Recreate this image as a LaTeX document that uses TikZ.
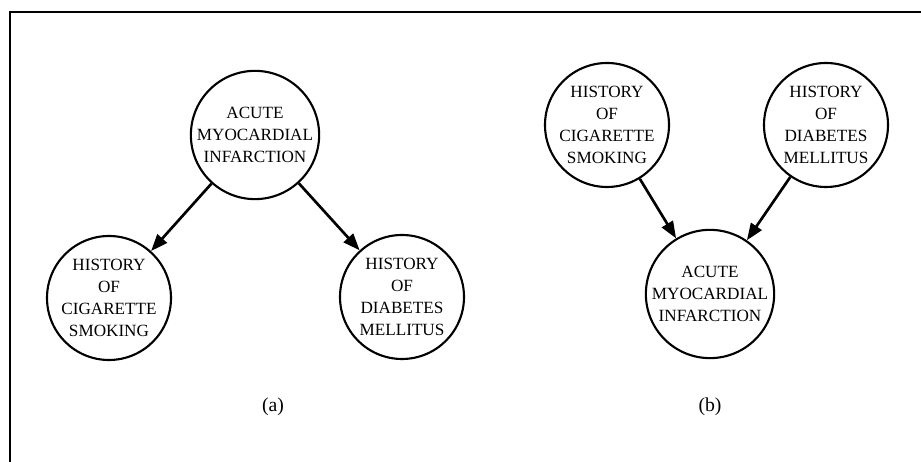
\documentclass[tikz,border=0pt]{standalone}
\usepackage{fontspec}
\setmainfont{Liberation Serif}
\usetikzlibrary{arrows.meta, positioning}

\tikzset{
  var/.style={circle, draw=black, line width=1.5pt, inner sep=0pt, minimum size=3.1cm,
    align=center, font=\fontsize{12.2}{15.6}\selectfont},
  arr/.style={line width=1.9pt, -{Triangle[length=12pt,width=9pt]}},
  caption/.style={font=\fontsize{14}{16}\selectfont}
}

\begin{document}
\begin{tikzpicture}
      \useasboundingbox (0, 0) rectangle (23.025, 11.55);
      \draw[line width=1pt] (0.25, 0) -- (0.25, 11.25) -- (23.025, 11.25);

      % (a)
      \node[var] (amiA) at (6.375, 8.175) {ACUTE\\MYOCARDIAL\\INFARCTION};
      \node[var] (smokA) at (2.725, 4.1) {HISTORY\\OF\\CIGARETTE\\SMOKING};
      \node[var] (diabA) at (10.05, 4.125) {HISTORY\\OF\\DIABETES\\MELLITUS};
      \draw[arr] (amiA) -- (smokA);
      \draw[arr] (amiA) -- (diabA);
      \node[caption] (capA) at (6.825, 1.375) {(a)};

      % (b)
      \node[var] (smokB) at (15.175, 8.425) {HISTORY\\OF\\CIGARETTE\\SMOKING};
      \node[var] (diabB) at (20.65, 8.425) {HISTORY\\OF\\DIABETES\\MELLITUS};
      \node[var] (amiB) at (17.75, 4.2) {ACUTE\\MYOCARDIAL\\INFARCTION};
      \draw[arr] (smokB) -- (amiB);
      \draw[arr] (diabB) -- (amiB);
      \node[caption] (capB) at (17.75, 1.375) {(b)};

    \end{tikzpicture}
\end{document}
